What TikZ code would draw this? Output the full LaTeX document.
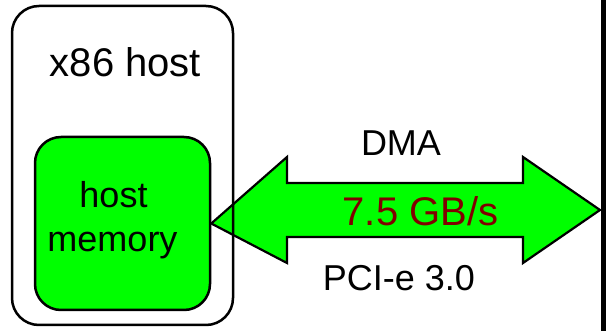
\documentclass[tikz,border=0pt]{standalone}
\usepackage{fontspec}
\setmainfont{Liberation Sans}
\definecolor{brightgreen}{HTML}{00FF00}
\definecolor{ratered}{HTML}{800000}
\pgfdeclarelayer{bg}
\pgfsetlayers{bg,main}
\tikzset{
  box/.style={draw=black, line width=2.5pt, rounded corners=26pt, inner sep=0pt, anchor=center},
  lbl/.style={font=\fontsize{36}{40}\selectfont, anchor=base, inner sep=0pt},
  biglbl/.style={lbl, font=\fontsize{40}{44}\selectfont},
  pipe/.style={draw=black, line width=2.2pt, fill=brightgreen, line join=miter}
}
\begin{document}
\begin{tikzpicture}[x=1pt,y=-1pt]
\useasboundingbox (0,0) rectangle (606,331);
% cut-off box on the right
\fill[black] (601,0) rectangle (606,331);
\coordinate (farend) at (600,210);
% outer host box
\node[box, minimum width=221pt, minimum height=319pt, rounded corners=27pt] (host) at (122.5,165.5) {};
% inner memory box
\node[box, fill=brightgreen, minimum width=175pt, minimum height=173pt] (mem) at (122.5,223.5) {};
% bidirectional DMA arrow (behind the boxes)
\begin{pgfonlayer}{bg}
\path[pipe] (mem.east) -- (287,157) -- (287,183) -- (523,183) -- (523,157) -- (farend)
  -- (523,263) -- (523,237) -- (287,237) -- (287,263) -- cycle;
\end{pgfonlayer}
% labels
\node[biglbl] (hosttitle) at (125.5,77) {x86 host};
\node[lbl] (memline1) at (113.5,208) {host};
\node[lbl] (memline2) at (112.5,252) {memory};
\node[lbl] (dma) at (401,156) {DMA};
\node[biglbl, text=ratered] (rate) at (420.5,226) {7.5 GB/s};
\node[lbl] (pcie) at (399,291) {PCI-e 3.0};
\end{tikzpicture}
\end{document}
